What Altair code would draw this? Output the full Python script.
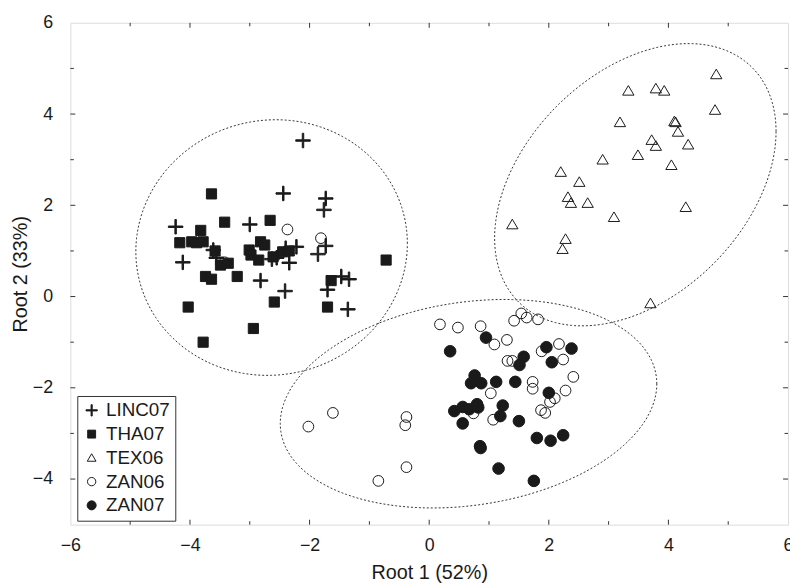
import altair as alt
import pandas as pd
import numpy as np

# ---------------- data ----------------
groups = ["LINC07", "THA07", "TEX06", "ZAN06", "ZAN07"]

linc_x = [-2.11, -2.44, -1.73, -1.76, -4.24, -3.00, -4.12, -3.61, -3.56, -2.22, -2.40,
          -2.34, -2.63, -1.86, -1.73, -2.82, -2.41, -1.47, -1.34, -1.70, -1.36, -2.55]
linc_y = [3.42, 2.26, 2.15, 1.90, 1.53, 1.58, 0.75, 1.02, 0.85, 1.09, 1.06,
          0.74, 0.82, 0.93, 1.11, 0.35, 0.12, 0.44, 0.38, 0.15, -0.28, 0.85]

tha_x = [-3.64, -3.42, -2.66, -3.82, -4.17, -3.97, -3.89, -3.78, -3.58, -3.49, -3.36,
         -3.01, -2.98, -2.82, -2.75, -2.85, -2.61, -2.45, -2.34, -3.74, -3.64, -3.21,
         -4.03, -2.59, -2.94, -3.78, -1.70, -1.64, -0.72]
tha_y = [2.25, 1.63, 1.67, 1.45, 1.18, 1.20, 1.18, 1.20, 1.00, 0.69, 0.73,
         1.02, 0.91, 1.20, 1.13, 0.80, 0.87, 0.98, 1.00, 0.44, 0.38, 0.44,
         -0.23, -0.12, -0.70, -1.00, -0.23, 0.35, 0.80]

tex_x = [4.80, 3.33, 3.79, 3.93, 4.78, 3.19, 4.10, 4.12, 4.16, 3.72, 3.79, 4.33, 3.49,
         2.90, 4.05, 2.20, 2.51, 2.32, 2.37, 2.65, 4.29, 3.09, 1.39, 2.28, 2.23, 3.70]
tex_y = [4.87, 4.51, 4.56, 4.51, 4.09, 3.82, 3.84, 3.82, 3.61, 3.43, 3.30, 3.33, 3.10,
         3.00, 2.88, 2.73, 2.51, 2.18, 2.05, 2.05, 1.96, 1.74, 1.58, 1.26, 1.04, -0.15]

zan6_x = [-2.37, -1.81, -3.42,
          -2.02, -1.61, -0.38, -0.40, -0.38, -0.85, 0.18, 0.48, 0.86, 1.09, 1.30, 1.42,
          1.54, 1.63, 1.82, 1.31, 1.39, 1.88, 2.17, 2.24, 2.41, 1.73, 1.73, 2.28, 1.03,
          2.10, 2.02, 1.87, 1.94, 1.07, 0.74]
zan6_y = [1.47, 1.28, 0.75,
          -2.85, -2.55, -2.64, -2.82, -3.74, -4.04, -0.61, -0.68, -0.65, -1.05, -0.95, -0.53,
          -0.37, -0.46, -0.50, -1.41, -1.41, -1.20, -1.04, -1.38, -1.76, -1.87, -2.02, -2.06, -2.12,
          -2.23, -2.31, -2.49, -2.55, -2.70, -2.56]

zan7_x = [0.35, 0.95, 1.58, 1.51, 1.96, 2.38, 2.05, 0.76, 0.70, 0.87, 1.12, 1.44, 2.00,
          0.42, 0.56, 0.67, 0.80, 0.82, 1.23, 1.19, 1.50, 0.56, 0.85, 0.86, 1.80, 2.03,
          2.24, 1.16, 1.75]
zan7_y = [-1.20, -0.90, -1.32, -1.50, -1.11, -1.14, -1.44, -1.73, -1.90, -1.90, -1.87, -1.87, -2.11,
          -2.51, -2.42, -2.47, -2.36, -2.43, -2.39, -2.62, -2.73, -2.78, -3.28, -3.32, -3.10, -3.16,
          -3.04, -3.77, -4.04]

# ellipses: centre and two conjugate semi-axis vectors (data units)
ell_names = ["E1", "E2", "E3"]
ell_cx = [-2.635, 3.447, 0.658]
ell_cy = [1.074, 2.451, -2.349]
ell_ux = [2.270, 2.353, 3.148]
ell_uy = [0.087, 1.171, 0.434]
ell_vx = [0.0, 0.0, 0.0]
ell_vy = [2.800, 2.863, 2.243]

x_major = [-4, -2, 0, 2, 4]
x_minor = [-5, -3, -1, 1, 3, 5]
y_major = [-4, -2, 0, 2, 4]
y_minor = [-3, -1, 1, 3, 5]

# ---------------- tables ----------------
rows = []
for g, xs_, ys_ in [("LINC07", linc_x, linc_y), ("THA07", tha_x, tha_y), ("TEX06", tex_x, tex_y),
                    ("ZAN06", zan6_x, zan6_y), ("ZAN07", zan7_x, zan7_y)]:
    for a, b in zip(xs_, ys_):
        rows.append({"x": a, "y": b, "group": g})
pts = pd.DataFrame(rows)

t = np.linspace(0, 2 * np.pi, 241)
erows = []
for i, n in enumerate(ell_names):
    for k, tt in enumerate(t):
        erows.append({"e": n, "k": k,
                      "x": ell_cx[i] + ell_ux[i] * np.cos(tt) + ell_vx[i] * np.sin(tt),
                      "y": ell_cy[i] + ell_uy[i] * np.cos(tt) + ell_vy[i] * np.sin(tt)})
ell = pd.DataFrame(erows)

W, H = 725, 507
FONT = "Liberation Sans"
INK = "#1a1a1a"

xs = alt.Scale(domain=[-6, 6], nice=False, zero=False)
ys = alt.Scale(domain=[-5, 6], nice=False, zero=False)

shape_paths = [
    "M-1,-0.1H-0.1V-1H0.1V-0.1H1V0.1H0.1V1H-0.1V0.1H-1Z",
    "M-0.7,-0.7H0.7V0.7H-0.7Z",
    "M-0.78,0.6L0.78,0.6L0,-0.72Z",
    "M-0.74,0A0.74,0.74,0,1,1,0.74,0A0.74,0.74,0,1,1,-0.74,0Z",
    "M-0.8,0A0.8,0.8,0,1,1,0.8,0A0.8,0.8,0,1,1,-0.8,0Z",
]
fills = [INK, INK, "transparent", "transparent", INK]
strokes = [INK] * 5

leg = alt.Legend(title=None, orient="none", legendX=7, legendY=377,
                 strokeColor="#333", padding=5, labelFont=FONT, labelFontSize=19,
                 labelColor=INK, symbolSize=130, rowPadding=4, labelOffset=5,
                 symbolStrokeWidth=1)

points = alt.Chart(pts).mark_point(size=215, strokeWidth=1, opacity=1).encode(
    x=alt.X("x:Q", scale=xs,
            axis=alt.Axis(values=[-6, -4, -2, 0, 2, 4, 6], format="d", ticks=False, domain=False,
                          grid=False, labelFont=FONT, labelFontSize=18, labelColor=INK,
                          labelPadding=12, title="Root 1 (52%)", titleFont=FONT, titleFontSize=20,
                          titleFontWeight="normal", titleColor=INK, titlePadding=8,
                          labelFlush=False)),
    y=alt.Y("y:Q", scale=ys,
            axis=alt.Axis(values=[-4, -2, 0, 2, 4, 6], format="d", ticks=False, domain=False,
                          grid=False, labelFont=FONT, labelFontSize=18, labelColor=INK,
                          labelPadding=18, title="Root 2 (33%)", titleFont=FONT, titleFontSize=20,
                          titleFontWeight="normal", titleColor=INK, titlePadding=2,
                          labelFlush=False)),
    shape=alt.Shape("group:N", scale=alt.Scale(domain=groups, range=shape_paths), legend=leg),
    fill=alt.Fill("group:N", scale=alt.Scale(domain=groups, range=fills), legend=leg),
    stroke=alt.Stroke("group:N", scale=alt.Scale(domain=groups, range=strokes), legend=leg),
)

ellipses = alt.Chart(ell).mark_line(strokeDash=[2, 2], strokeWidth=1, color="#333").encode(
    x=alt.X("x:Q", scale=xs), y=alt.Y("y:Q", scale=ys), detail="e:N", order="k:Q")

def tick_layer(vals, ch, length, side):
    d = pd.DataFrame({"v": vals})
    if ch == "x":
        if side == "bottom":
            enc = dict(x=alt.X("v:Q", scale=xs), y=alt.value(H), y2=alt.value(H - length))
        else:
            enc = dict(x=alt.X("v:Q", scale=xs), y=alt.value(0), y2=alt.value(length))
    else:
        if side == "left":
            enc = dict(y=alt.Y("v:Q", scale=ys), x=alt.value(0), x2=alt.value(length))
        else:
            enc = dict(y=alt.Y("v:Q", scale=ys), x=alt.value(W), x2=alt.value(W - length))
    return alt.Chart(d).mark_rule(color="#333", strokeWidth=1).encode(**enc)

ticks = []
for side in ["bottom", "top"]:
    ticks.append(tick_layer(x_major, "x", 5, side))
    ticks.append(tick_layer(x_minor, "x", 3.5, side))
for side in ["left", "right"]:
    ticks.append(tick_layer(y_major, "y", 5, side))
    ticks.append(tick_layer(y_minor, "y", 3.5, side))

chart = alt.layer(ellipses, *ticks, points).properties(
    width=W, height=H,
    autosize=alt.AutoSizeParams(type="none"),
    padding={"left": 63, "top": 12, "right": 2, "bottom": 60},
).configure_view(stroke="#333", strokeWidth=1).configure(background="white")

chart.save("out.html", embed_options={"renderer": "svg", "actions": False})
